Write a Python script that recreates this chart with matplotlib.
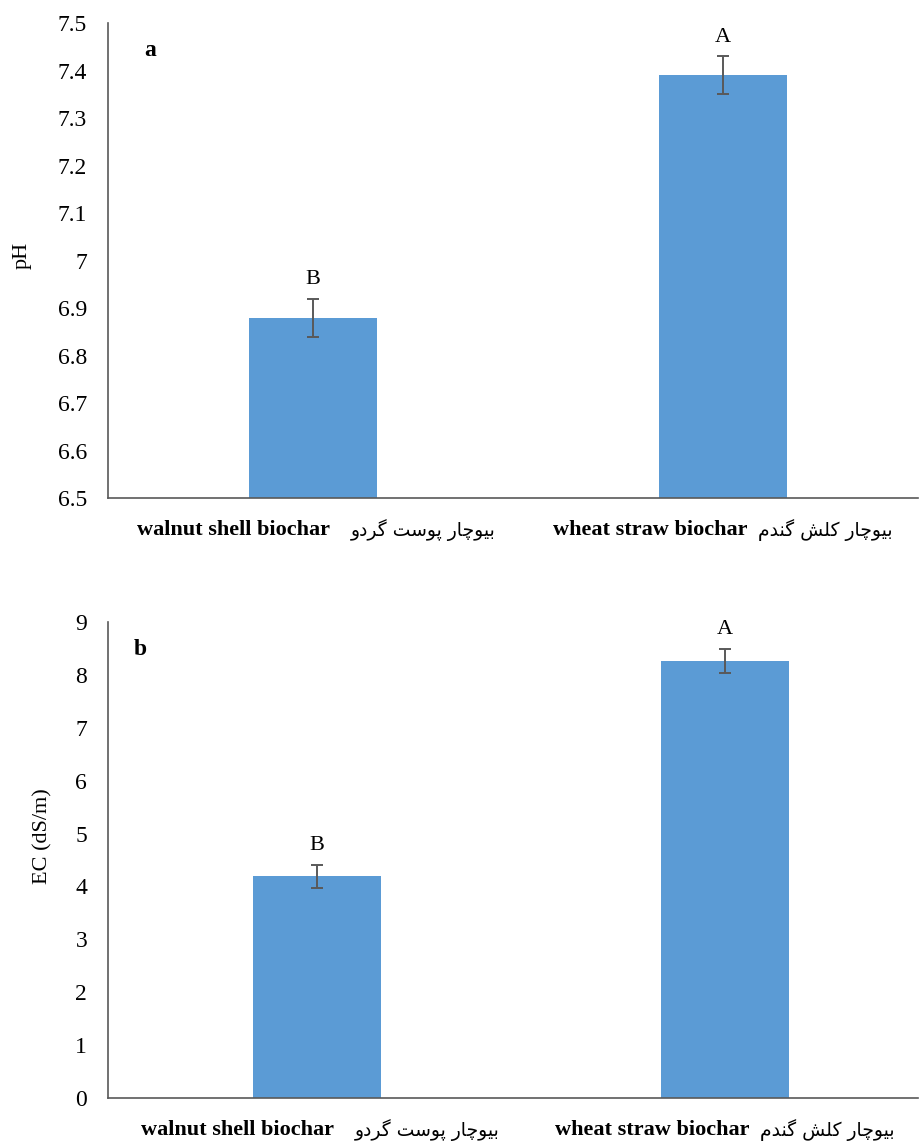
import matplotlib.pyplot as plt

# Persian glyphs written in presentation forms, logical order (reversed for display)
fa_walnut = '\uFE91\uFBFF\uFEEE\uFB7C\uFE8E\uFEAD \uFB58\uFEEE\uFEB3\uFE96 \uFB94\uFEAE\uFEA9\uFEED'
fa_wheat = '\uFE91\uFBFF\uFEEE\uFB7C\uFE8E\uFEAD \uFB90\uFEE0\uFEB6 \uFB94\uFEE8\uFEAA\uFEE1'

en_labels = ['walnut shell biochar', 'wheat straw biochar']
fa_labels = [fa_walnut, fa_wheat]

ph = [6.88, 7.39]
ph_err = [0.04, 0.04]
ph_letters = ['B', 'A']

ec = [4.19, 8.26]
ec_err = [0.22, 0.23]
ec_letters = ['B', 'A']

plt.rcParams['font.family'] = ['Liberation Serif', 'DejaVu Sans']

fig = plt.figure(figsize=(9.2, 11.46), dpi=100)
ax1 = fig.add_axes([0.1174, 0.5654, 0.8804, 0.4145])
ax2 = fig.add_axes([0.1174, 0.0419, 0.8804, 0.4153])

bar_color = '#5B9BD5'
x = range(len(en_labels))
# label offsets (points) from bar centre: english right edge, persian left edge
en_off = [12, 18]
fa_off = [27, 25]


def panel(ax, vals, errs, letters, xlim, ylim, step, ylabel, tag, labx, laby, tagx):
    ax.bar(x, vals, width=0.312, color=bar_color, yerr=errs, capsize=4.5,
           error_kw=dict(ecolor='#595959', elinewidth=1.4, capthick=1.4))
    for i in x:
        ax.annotate(letters[i], (i, vals[i] + errs[i]), xytext=(0, 7),
                    textcoords='offset points', ha='center', va='bottom', fontsize=16)
        ax.annotate(en_labels[i], (i, 0), xycoords=('data', 'axes fraction'),
                    xytext=(en_off[i], -23), textcoords='offset points',
                    ha='right', va='center', fontsize=16, fontweight='bold',
                    family='Liberation Serif')
        ax.annotate(fa_labels[i][::-1], (i, 0), xycoords=('data', 'axes fraction'),
                    xytext=(fa_off[i], -23), textcoords='offset points',
                    ha='left', va='center', fontsize=13.5, family='DejaVu Sans')
    ax.set_xlim(xlim)
    ax.set_ylim(ylim)
    ticks = [round(ylim[0] + k * step, 2) for k in range(int(round((ylim[1] - ylim[0]) / step)) + 1)]
    ax.set_yticks(ticks)
    ax.set_yticklabels(['%g' % t for t in ticks])
    ax.set_xticks([])
    ax.tick_params(axis='y', length=0, labelsize=17, pad=15)
    for s in ['top', 'right']:
        ax.spines[s].set_visible(False)
    for s in ['left', 'bottom']:
        ax.spines[s].set_color('#595959')
        ax.spines[s].set_linewidth(1.2)
    ax.set_ylabel(ylabel, fontsize=16)
    ax.yaxis.set_label_coords(labx, laby)
    ax.text(tagx, 0.943, tag, transform=ax.transAxes, fontsize=17,
            fontweight='bold', ha='center', va='center')


panel(ax1, ph, ph_err, ph_letters, (-0.5, 1.476), (6.5, 7.5), 0.1, 'pH', 'a', -0.094, 0.51, 0.052)
panel(ax2, ec, ec_err, ec_letters, (-0.512, 1.473), (0, 9), 1, 'EC (dS/m)', 'b', -0.069, 0.55, 0.04)

fig.savefig('out.png', dpi=100)
